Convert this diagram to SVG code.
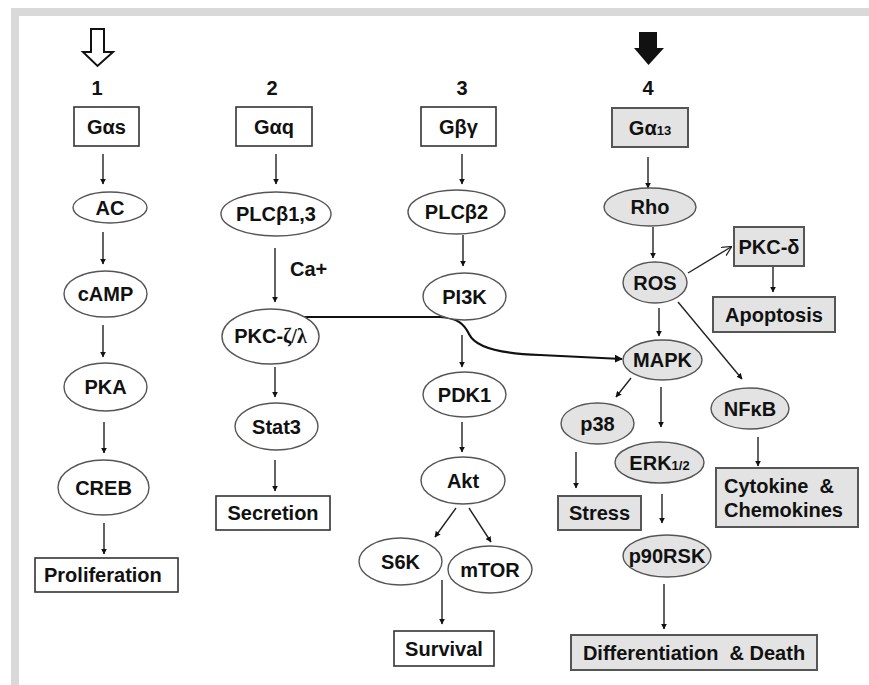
<svg xmlns="http://www.w3.org/2000/svg" width="869" height="685" viewBox="0 0 869 685">
<style>
text{font-family:"Liberation Sans",Arial,sans-serif;font-weight:bold;fill:#111;font-size:20px}
.c{text-anchor:middle}
.num{font-size:20px}
.sub{font-size:13px}
.e{fill:#fff;stroke:#555;stroke-width:1.4}
.eg{fill:#e3e3e3;stroke:#555;stroke-width:1.4}
.b{fill:#fff;stroke:#333;stroke-width:1.6}
.bg{fill:#e3e3e3;stroke:#555;stroke-width:2}
.l{fill:none;stroke:#222;stroke-width:1.4}
.g{font-family:"Liberation Serif","DejaVu Serif",serif;font-weight:bold}
</style>
<defs>
<marker id="ah" viewBox="0 0 10 10" refX="9" refY="5" markerWidth="6" markerHeight="6" markerUnits="userSpaceOnUse" orient="auto"><path d="M0,0L10,5L0,10z" fill="#111"/></marker>
<marker id="ahb" viewBox="0 0 10 10" refX="9" refY="5" markerWidth="8" markerHeight="8" markerUnits="userSpaceOnUse" orient="auto"><path d="M0,0L10,5L0,10z" fill="#111"/></marker>
<marker id="ao" viewBox="0 0 10 10" refX="9" refY="5" markerWidth="10" markerHeight="10" markerUnits="userSpaceOnUse" orient="auto"><path d="M0,0L10,5L0,10" fill="none" stroke="#222" stroke-width="1.2"/></marker>
</defs>
<rect x="0" y="0" width="869" height="685" fill="#fff"/>
<rect x="11" y="8" width="858" height="8" fill="#d9d9d9"/>
<rect x="11" y="8" width="8" height="677" fill="#d9d9d9"/>

<g id="inputs">
<polygon points="91,29 104,29 104,52 113,52 97.5,66 83,52 91,52" fill="#fff" stroke="#111" stroke-width="2"/>
<polygon points="639,32 657,32 657,48 664,48 648.5,65 634,48 639,48" fill="#111"/>
<text class="c num" x="97" y="95">1</text>
<text class="c num" x="272" y="95">2</text>
<text class="c num" x="462" y="95">3</text>
<text class="c num" x="648" y="95">4</text>
</g>

<g id="connectors">
<line class="l" x1="103" y1="154" x2="103" y2="184" marker-end="url(#ah)"/>
<line class="l" x1="103" y1="232" x2="103" y2="264" marker-end="url(#ah)"/>
<line class="l" x1="103" y1="325" x2="103" y2="357" marker-end="url(#ah)"/>
<line class="l" x1="104" y1="422" x2="104" y2="453" marker-end="url(#ah)"/>
<line class="l" x1="104" y1="523" x2="104" y2="554" marker-end="url(#ah)"/>

<line class="l" x1="276" y1="154" x2="276" y2="184" marker-end="url(#ah)"/>
<line class="l" x1="275" y1="248" x2="275" y2="302" marker-end="url(#ah)"/>
<line class="l" x1="275" y1="367" x2="275" y2="397" marker-end="url(#ah)"/>
<line class="l" x1="275" y1="460" x2="275" y2="491" marker-end="url(#ah)"/>

<line class="l" x1="462" y1="154" x2="462" y2="184" marker-end="url(#ah)"/>
<line class="l" x1="463" y1="235" x2="463" y2="266" marker-end="url(#ah)"/>
<line class="l" x1="462" y1="335" x2="462" y2="367" marker-end="url(#ah)"/>
<line class="l" x1="462" y1="422" x2="462" y2="452" marker-end="url(#ah)"/>
<line class="l" x1="456" y1="508" x2="435" y2="537" marker-end="url(#ah)"/>
<line class="l" x1="469" y1="508" x2="491" y2="542" marker-end="url(#ah)"/>
<line class="l" x1="442" y1="580" x2="442" y2="624" marker-end="url(#ah)"/>

<line class="l" x1="648" y1="157" x2="648" y2="188" marker-end="url(#ah)"/>
<line class="l" x1="653" y1="227" x2="653" y2="258" marker-end="url(#ah)"/>
<line class="l" x1="688" y1="273" x2="731" y2="247" marker-end="url(#ao)"/>
<line class="l" x1="773" y1="267" x2="773" y2="292" marker-end="url(#ah)"/>
<line class="l" x1="659" y1="308" x2="659" y2="336" marker-end="url(#ah)"/>
<line class="l" x1="678" y1="302" x2="742" y2="379" marker-end="url(#ah)"/>
<line class="l" x1="631" y1="378" x2="616" y2="397" marker-end="url(#ah)"/>
<line class="l" x1="661" y1="387" x2="661" y2="427" marker-end="url(#ah)"/>
<line class="l" x1="576" y1="452" x2="576" y2="488" marker-end="url(#ah)"/>
<line class="l" x1="758" y1="437" x2="758" y2="466" marker-end="url(#ah)"/>
<line class="l" x1="662" y1="494" x2="662" y2="523" marker-end="url(#ah)"/>
<line class="l" x1="664" y1="584" x2="664" y2="629" marker-end="url(#ah)"/>

<path d="M303,317 L440,317 C458,318 464,324 469,334 C476,349 505,354 540,355 L622,359" fill="none" stroke="#111" stroke-width="2.2" marker-end="url(#ahb)"/>
<text x="290" y="276">Ca+</text>
</g>

<g id="Gas"><rect class="b" x="74" y="107" width="65" height="39"/><text class="c" x="106.5" y="134">Gαs</text></g>
<g id="AC"><ellipse class="e" cx="110" cy="207.5" rx="37" ry="15.5"/><text class="c" x="110" y="214.5">AC</text></g>
<g id="cAMP"><ellipse class="e" cx="105.5" cy="294" rx="41.5" ry="23"/><text class="c" x="105.5" y="301">cAMP</text></g>
<g id="PKA"><ellipse class="e" cx="105.5" cy="387" rx="41.5" ry="24"/><text class="c" x="105.5" y="394">PKA</text></g>
<g id="CREB"><ellipse class="e" cx="103.5" cy="487.5" rx="45.5" ry="27.5"/><text class="c" x="103.5" y="494.5">CREB</text></g>
<g id="Proliferation"><rect class="b" x="35" y="558" width="143" height="34"/><text x="44" y="582">Proliferation</text></g>

<g id="Gaq"><rect class="b" x="236" y="107" width="76" height="39"/><text class="c" x="274" y="134">Gαq</text></g>
<g id="PLCb13"><ellipse class="e" cx="276" cy="214" rx="55" ry="22"/><text class="c" x="276" y="221">PLCβ1,3</text></g>
<g id="PKCzl"><ellipse class="e" cx="270.5" cy="336.5" rx="48.5" ry="27.5"/><text class="c" x="270.5" y="343">PKC-<tspan class="g">ζ/λ</tspan></text></g>
<g id="Stat3"><ellipse class="e" cx="276.5" cy="426.5" rx="41.5" ry="23.5"/><text class="c" x="276.5" y="433.5">Stat3</text></g>
<g id="Secretion"><rect class="b" x="216" y="496" width="114" height="34"/><text class="c" x="273" y="520">Secretion</text></g>

<g id="Gbg"><rect class="b" x="421" y="107" width="75" height="39"/><text class="c" x="458.5" y="134">Gβγ</text></g>
<g id="PLCb2"><ellipse class="e" cx="456.5" cy="212" rx="48.5" ry="22"/><text class="c" x="456.5" y="219">PLCβ2</text></g>
<g id="PI3K"><ellipse class="e" cx="464.5" cy="296.5" rx="41.5" ry="23.5"/><text class="c" x="464.5" y="303.5">PI3K</text></g>
<g id="PDK1"><ellipse class="e" cx="464.5" cy="394.5" rx="41.5" ry="22.5"/><text class="c" x="464.5" y="401.5">PDK1</text></g>
<g id="Akt"><ellipse class="e" cx="463" cy="480.5" rx="42" ry="23.5"/><text class="c" x="463" y="487.5">Akt</text></g>
<g id="S6K"><ellipse class="e" cx="400.5" cy="561.5" rx="41.5" ry="23.5"/><text class="c" x="400.5" y="568.5">S6K</text></g>
<g id="mTOR"><ellipse class="e" cx="490" cy="569.5" rx="42" ry="23.5"/><text class="c" x="490" y="576.5">mTOR</text></g>
<g id="Survival"><rect class="b" x="394" y="631" width="100" height="35"/><text class="c" x="444" y="655.5">Survival</text></g>

<g id="Ga13"><rect class="bg" x="612" y="108" width="76" height="39"/><text class="c" x="650" y="135">Gα<tspan class="sub">13</tspan></text></g>
<g id="Rho"><ellipse class="eg" cx="650" cy="207" rx="46" ry="19"/><text class="c" x="650" y="214">Rho</text></g>
<g id="ROS"><ellipse class="eg" cx="655" cy="282.5" rx="32" ry="20.5"/><text class="c" x="655" y="289.5">ROS</text></g>
<g id="PKCd"><rect class="bg" x="734" y="227" width="70" height="39"/><text class="c" x="769" y="253.5">PKC-δ</text></g>
<g id="Apoptosis"><rect class="bg" x="713" y="297" width="122" height="35"/><text class="c" x="774" y="321.5">Apoptosis</text></g>
<g id="MAPK"><ellipse class="eg" cx="662.5" cy="360" rx="39.5" ry="20"/><text class="c" x="662.5" y="367">MAPK</text></g>
<g id="NFkB"><ellipse class="eg" cx="750" cy="408.5" rx="39" ry="20.5"/><text class="c" x="750" y="415.5">NFκB</text></g>
<g id="p38"><ellipse class="eg" cx="597.5" cy="423.5" rx="36.5" ry="20.5"/><text class="c" x="597.5" y="430.5">p38</text></g>
<g id="ERK"><ellipse class="eg" cx="659.5" cy="462.5" rx="44.5" ry="20.5"/><text class="c" x="659.5" y="469.5">ERK<tspan class="sub">1/2</tspan></text></g>
<g id="Stress"><rect class="bg" x="558" y="496" width="83" height="34"/><text class="c" x="599.5" y="520">Stress</text></g>
<g id="Cytokine"><rect class="bg" x="716" y="468" width="142" height="59"/><text x="724" y="493" xml:space="preserve">Cytokine  &amp;</text><text x="724" y="517">Chemokines</text></g>
<g id="p90RSK"><ellipse class="eg" cx="667" cy="556" rx="44" ry="21"/><text class="c" x="667" y="563">p90RSK</text></g>
<g id="Diff"><rect class="bg" x="571" y="635" width="246" height="35"/><text class="c" x="694" y="659.5" xml:space="preserve">Differentiation  &amp; Death</text></g>
</svg>
